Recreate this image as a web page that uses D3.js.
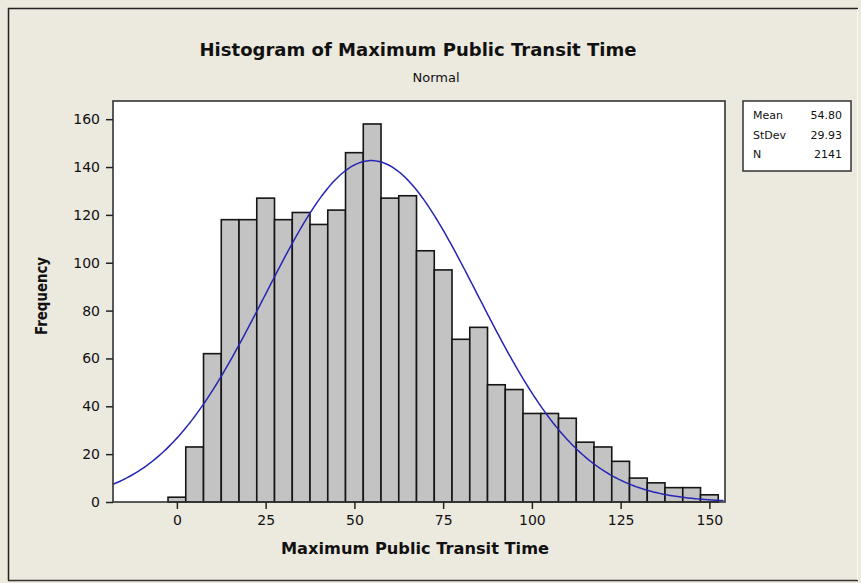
<!DOCTYPE html>
<html>
<head>
<meta charset="utf-8">
<script src="https://cdn.jsdelivr.net/npm/d3@7"></script>
<style>
  body { margin: 0; background: #ece9df; }
  svg { display: block; }
  text { font-family: "DejaVu Sans", Tahoma, sans-serif; fill: #111; }
</style>
</head>
<body>
<div class="graph"></div>
<script>
// Datos del histograma (centros de clase y frecuencias)
const binCenters = [0, 5, 10, 15, 20, 25, 30, 35, 40, 45, 50, 55, 60, 65, 70, 75,
    80, 85, 90, 95, 100, 105, 110, 115, 120, 125, 130, 135, 140, 145, 150];
const counts = [2, 23, 62, 118, 118, 127, 118, 121, 116, 122, 146, 158, 127, 128, 105, 97,
    68, 73, 49, 47, 37, 37, 35, 25, 23, 17, 10, 8, 6, 6, 3];
const binWidth = 5;

// Estadísticos mostrados en la leyenda
const statLabels = ["Mean", "StDev", "N"];
const statValues = ["54.80", "29.93", "2141"];
const mean = 54.80;
const stDev = 29.93;
const n = 2141;

// Marcas de los ejes
const xTicks = [0, 25, 50, 75, 100, 125, 150];
const yTicks = [0, 20, 40, 60, 80, 100, 120, 140, 160];

// Tamaño y área del gráfico
const width = 861;
const height = 583;
const plot = { left: 113, right: 725, top: 101, bottom: 502 };

const svg = d3
    .select(".graph")
    .append("svg")
    .attr("width", width)
    .attr("height", height);

// Marco exterior
svg.append("rect")
    .attr("x", 0).attr("y", 0)
    .attr("width", width).attr("height", height)
    .style("fill", "#ece9df");
svg.append("path")
    .attr("d", "M8.5,580.5 L8.5,8.5 L858,8.5")
    .style("fill", "none").style("stroke", "#222").style("stroke-width", 1.5);
svg.append("line")
    .attr("x1", 8).attr("x2", 858).attr("y1", 580.5).attr("y2", 580.5)
    .style("stroke", "#333").style("stroke-width", 1.5);
svg.append("line")
    .attr("x1", 857.5).attr("x2", 857.5).attr("y1", 9).attr("y2", 580)
    .style("stroke", "#fbfaf5").style("stroke-width", 1);

// Escalas
const xScale = d3.scaleLinear().domain([-18, 154.4]).range([plot.left, plot.right]);
const yScale = d3.scaleLinear().domain([0, 167.6]).range([plot.bottom, plot.top]);

// Fondo blanco del área de datos
svg.append("rect")
    .attr("x", plot.left).attr("y", plot.top)
    .attr("width", plot.right - plot.left)
    .attr("height", plot.bottom - plot.top)
    .style("fill", "#fff");

// Barras
const bins = binCenters.map((c, i) => ({ x0: c - binWidth / 2, x1: c + binWidth / 2, count: counts[i] }));
svg.append("g")
    .selectAll("rect")
    .data(bins)
    .join("rect")
    .attr("x", d => xScale(d.x0))
    .attr("y", d => yScale(d.count))
    .attr("width", d => xScale(d.x1) - xScale(d.x0))
    .attr("height", d => yScale(0) - yScale(d.count))
    .style("fill", "#c3c3c3")
    .style("stroke", "#151515")
    .style("stroke-width", 1.6);

// Curva normal ajustada (a partir de Mean, StDev y N)
const pdf = x => Math.exp(-0.5 * ((x - mean) / stDev) ** 2) / (stDev * Math.sqrt(2 * Math.PI));
const curveXs = d3.range(xScale.domain()[0], xScale.domain()[1] + 0.01, 0.5);
const line = d3.line()
    .x(x => xScale(x))
    .y(x => yScale(n * binWidth * pdf(x)));
svg.append("path")
    .datum(curveXs)
    .attr("d", line)
    .style("fill", "none")
    .style("stroke", "#2626b4")
    .style("stroke-width", 1.5);

// Marco del área de datos
svg.append("rect")
    .attr("x", plot.left).attr("y", plot.top)
    .attr("width", plot.right - plot.left)
    .attr("height", plot.bottom - plot.top)
    .style("fill", "none")
    .style("stroke", "#333")
    .style("stroke-width", 1.6);

// Eje X
const xAxis = svg.append("g")
    .attr("transform", `translate(0, ${plot.bottom})`)
    .call(d3.axisBottom(xScale).tickValues(xTicks).tickSize(7).tickSizeOuter(0).tickPadding(6));
xAxis.select(".domain").remove();
xAxis.selectAll("line").style("stroke", "#222").style("stroke-width", 1.5);
xAxis.selectAll("text").style("font-size", "14px").style("fill", "#111").style("font-family", "DejaVu Sans");

// Eje Y
const yAxis = svg.append("g")
    .attr("transform", `translate(${plot.left}, 0)`)
    .call(d3.axisLeft(yScale).tickValues(yTicks).tickSize(7).tickSizeOuter(0).tickPadding(6));
yAxis.select(".domain").remove();
yAxis.selectAll("line").style("stroke", "#222").style("stroke-width", 1.5);
yAxis.selectAll("text").style("font-size", "14px").style("fill", "#111").style("font-family", "DejaVu Sans");

// Títulos
svg.append("text")
    .attr("x", 418).attr("y", 56)
    .attr("text-anchor", "middle")
    .attr("textLength", 437)
    .attr("lengthAdjust", "spacingAndGlyphs")
    .style("font-size", "18px")
    .style("font-weight", "bold")
    .text("Histogram of Maximum Public Transit Time");

svg.append("text")
    .attr("x", 436).attr("y", 82)
    .attr("text-anchor", "middle")
    .style("font-size", "13px")
    .text("Normal");

svg.append("text")
    .attr("x", 415).attr("y", 554)
    .attr("text-anchor", "middle")
    .attr("textLength", 268)
    .attr("lengthAdjust", "spacingAndGlyphs")
    .style("font-size", "15px")
    .style("font-weight", "bold")
    .text("Maximum Public Transit Time");

svg.append("text")
    .attr("transform", "translate(47, 296) rotate(-90)")
    .attr("text-anchor", "middle")
    .attr("textLength", 78)
    .attr("lengthAdjust", "spacingAndGlyphs")
    .style("font-size", "15px")
    .style("font-weight", "bold")
    .text("Frequency");

// Caja de estadísticos
const legend = svg.append("g").attr("transform", "translate(743, 101)");
legend.append("rect")
    .attr("width", 108).attr("height", 70)
    .style("fill", "#fff")
    .style("stroke", "#333")
    .style("stroke-width", 1.5);
legend.selectAll("text.lab")
    .data(statLabels)
    .join("text")
    .attr("class", "lab")
    .attr("x", 10)
    .attr("y", (d, i) => 18 + i * 19.5)
    .style("font-size", "11px")
    .text(d => d);
legend.selectAll("text.val")
    .data(statValues)
    .join("text")
    .attr("class", "val")
    .attr("x", 99)
    .attr("y", (d, i) => 18 + i * 19.5)
    .attr("text-anchor", "end")
    .style("font-size", "11px")
    .text(d => d);
</script>
</body>
</html>
